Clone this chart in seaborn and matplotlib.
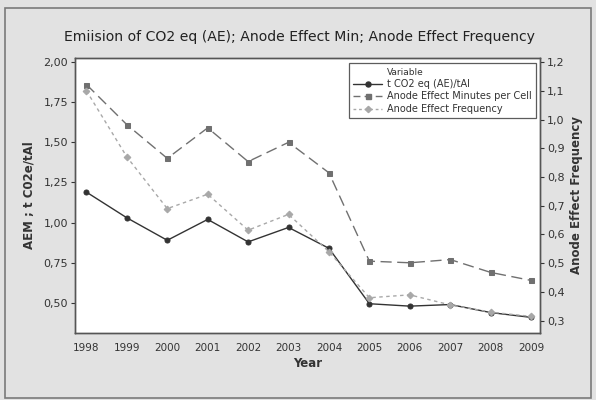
import pandas as pd
import seaborn as sns
import matplotlib.pyplot as plt
import matplotlib.ticker as mticker
from matplotlib.lines import Line2D
from matplotlib.patches import Rectangle

years = [1998, 1999, 2000, 2001, 2002, 2003, 2004, 2005, 2006, 2007, 2008, 2009]
co2_eq = [1.19, 1.03, 0.89, 1.02, 0.88, 0.97, 0.84, 0.495, 0.48, 0.49, 0.44, 0.41]
ae_minutes = [1.86, 1.61, 1.40, 1.59, 1.38, 1.50, 1.31, 0.76, 0.75, 0.77, 0.69, 0.64]
ae_frequency = [1.10, 0.87, 0.69, 0.74, 0.615, 0.67, 0.54, 0.38, 0.39, 0.355, 0.33, 0.315]

left_ticks = [0.50, 0.75, 1.00, 1.25, 1.50, 1.75, 2.00]
right_ticks = [0.3, 0.4, 0.5, 0.6, 0.7, 0.8, 0.9, 1.0, 1.1, 1.2]

df = pd.DataFrame({"Year": years, "co2": co2_eq, "aem": ae_minutes, "aef": ae_frequency})

sns.set_style("white")
plt.rcParams["font.family"] = ["DejaVu Sans"]

c_co2 = "#333333"
c_aem = "#707070"
c_aef = "#a8a8a8"

fig = plt.figure(figsize=(5.96, 4.0), dpi=100)
fig.patch.set_facecolor("#e2e2e2")
fig.patches.append(Rectangle((0.009, 0.005), 0.982, 0.975, transform=fig.transFigure,
                             fill=False, edgecolor="#7a7a7a", linewidth=1.2))

ax = fig.add_axes([0.126, 0.168, 0.78, 0.687])
ax.set_facecolor("white")
ax2 = ax.twinx()

sns.lineplot(data=df, x="Year", y="co2", ax=ax, color=c_co2, marker="o",
             markersize=3.6, linewidth=1.0, markeredgecolor=c_co2)
sns.lineplot(data=df, x="Year", y="aem", ax=ax, color=c_aem, marker="s",
             markersize=3.6, linewidth=1.0, dashes=(8, 4), markeredgecolor=c_aem)
sns.lineplot(data=df, x="Year", y="aef", ax=ax2, color=c_aef, marker="D",
             markersize=3.4, linewidth=1.0, dashes=(2.5, 2.5), markeredgecolor=c_aef)

ax.set_xlim(1997.72, 2009.22)
ax.set_ylim(0.314, 2.025)
ax2.set_ylim(0.258, 1.214)
ax.set_xticks(years)
ax.set_yticks(left_ticks)
ax2.set_yticks(right_ticks)

fmt2 = mticker.FuncFormatter(lambda v, p: f"{v:.2f}".replace(".", ","))
fmt1 = mticker.FuncFormatter(lambda v, p: f"{v:.1f}".replace(".", ","))
ax.yaxis.set_major_formatter(fmt2)
ax2.yaxis.set_major_formatter(fmt1)

for a in (ax, ax2):
    a.tick_params(axis="both", direction="out", length=3, width=0.8,
                  labelsize=8, colors="#333333", pad=2)
    for s in a.spines.values():
        s.set_color("#555555")
        s.set_linewidth(1.0)
ax.tick_params(axis="x", labelsize=7.5, pad=4)

ax.set_xlabel("Year", fontsize=8.5, fontweight="bold", color="#333333", labelpad=3)
ax.set_ylabel("AEM ; t C02e/tAl", fontsize=8.5, fontweight="bold", color="#333333", labelpad=6)
ax2.set_ylabel("Anode Effect Frequency", fontsize=8.5, fontweight="bold", color="#333333", labelpad=4)
fig.text(0.503, 0.908, "Emiision of CO2 eq (AE); Anode Effect Min; Anode Effect Frequency",
         ha="center", va="center", fontsize=10.1, color="#222222")

# "Variable" heading as an entry without a handle, so it lines up with the text
handles = [
    Line2D([], [], linestyle="none"),
    Line2D([], [], color=c_co2, marker="o", markersize=3.6, linewidth=1.0),
    Line2D([], [], color=c_aem, marker="s", markersize=3.6, linewidth=1.0, dashes=(5, 3)),
    Line2D([], [], color=c_aef, marker="D", markersize=3.2, linewidth=1.0, dashes=(2, 2)),
]
labels = ["Variable", "t CO2 eq (AE)/tAl", "Anode Effect Minutes per Cell", "Anode Effect Frequency"]
leg = ax2.legend(handles, labels, loc="upper right",
                 bbox_to_anchor=(0.996, 0.988), fontsize=7, frameon=True,
                 fancybox=False, borderpad=0.45, labelspacing=0.25,
                 handlelength=3.0, handletextpad=0.5, borderaxespad=0.2)
leg.get_frame().set_edgecolor("#333333")
leg.get_frame().set_linewidth(0.9)
for t in leg.get_texts():
    t.set_color("#333333")
leg.get_texts()[0].set_fontsize(6.5)

fig.savefig("out.png", dpi=100, facecolor=fig.get_facecolor())
